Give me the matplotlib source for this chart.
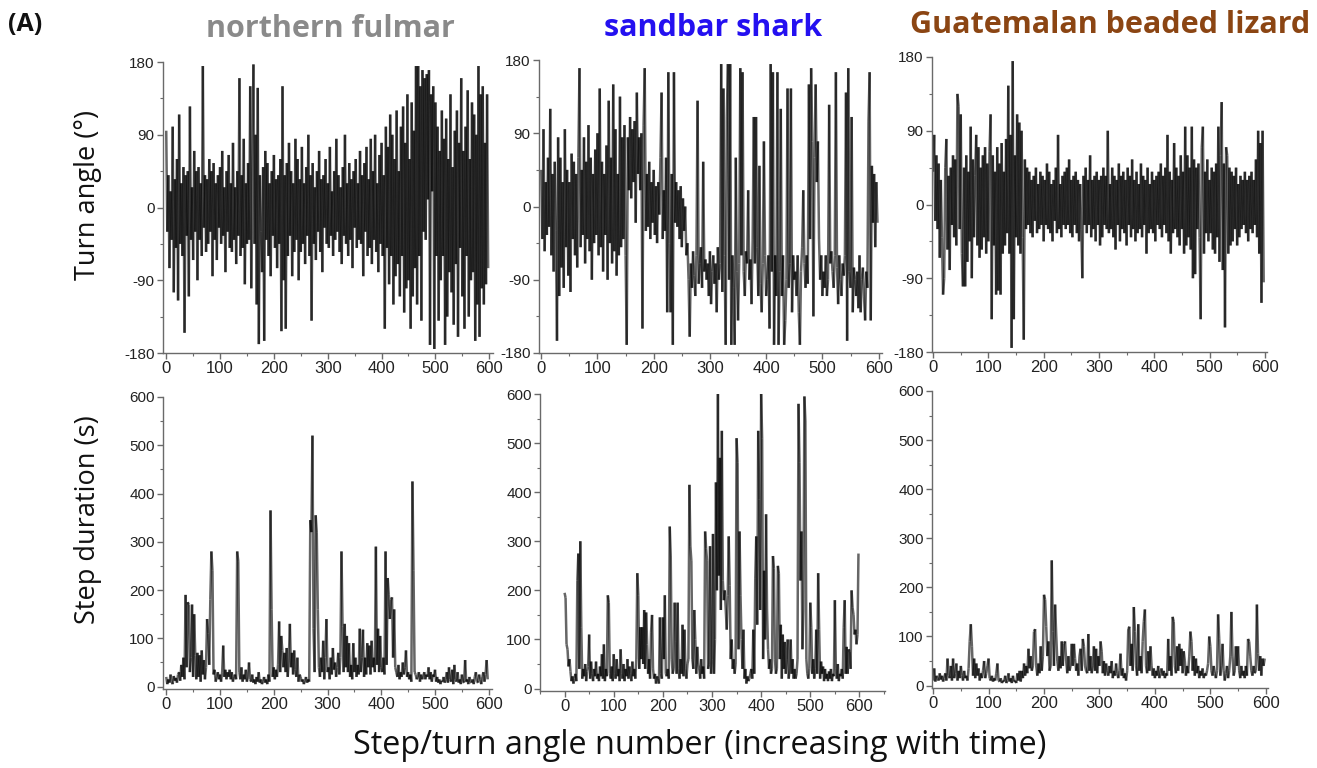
import numpy as np
import matplotlib
matplotlib.use("Agg")
import matplotlib.pyplot as plt
from matplotlib.ticker import MultipleLocator
from matplotlib.collections import LineCollection

plt.rcParams["font.family"] = ["Liberation Sans", "DejaVu Sans"]
plt.rcParams["axes.unicode_minus"] = False

# ---------------- data (one value every 2 steps) ----------------
species = ["northern fulmar", "sandbar shark", "Guatemalan beaded lizard"]
title_colors = ["#8a8a8a", "#2410f0", "#8b4513"]

fulmar_turn = [
    95, -30, 40, -75, 20, -40, 100, -105, 35, -50,
    60, -115, 115, -45, 30, -60, 50, -155, 40, -35,
    45, -110, 125, -40, 25, -65, 70, -30, 45, -90,
    50, -40, 30, -60, 175, -25, 40, -55, 35, -45,
    60, -30, 45, -85, 55, -40, 30, -65, 40, -25,
    50, -45, 70, -35, 25, -80, 45, -30, 65, -50,
    30, -55, 80, -40, 25, -70, 45, -35, 160, -60,
    40, -50, 85, -95, 30, -45, 55, -40, 150, -100,
    60, 177, -45, 90, -120, 148, -169, 40, -30, -80,
    50, -165, 70, -40, 55, -60, 30, -85, 45, -35,
    65, -50, 35, -75, 40, -45, 60, -153, 150, -90,
    40, -150, 55, -60, 80, -35, 45, -85, 30, -55,
    85, -40, 60, -90, 35, -55, 75, -45, 30, -70,
    50, -35, 90, -60, 40, -140, 55, -45, 25, -65,
    45, -30, 70, -55, 35, -80, 40, -25, 60, -45,
    30, -50, 75, -35, 20, -60, 45, -40, 85, -30,
    40, -55, 25, -70, 50, -35, 90, -45, 30, -60,
    55, -40, 35, -75, 45, -25, 60, -50, 30, -40,
    70, -45, 40, -85, 55, -30, 75, -60, 35, -50,
    85, -70, 45, -40, 90, -55, 30, -80, 65, -45,
    80, -60, 40, -150, 100, -50, 75, -95, 115, -60,
    90, -120, 60, -85, 120, -70, 45, -110, 100, -60,
    125, -130, 80, -100, 140, -90, 60, -150, 130, -110,
    95, -75, 175, -120, 175, -60, 150, -140, 170, -30,
    160, -40, 165, 10, 170, -170, 140, 20, 150, -175,
    130, -60, 100, -140, 70, -90, 120, -60, 85, -170,
    110, -135, 60, -80, 140, -105, 50, -145, 95, -70,
    120, -160, 80, -50, 160, -110, 70, -150, 100, -60,
    145, -135, 60, -90, 130, -80, 115, -165, 90, -120,
    175, -160, 140, -100, 150, -120, 80, -95, 140, -75,
]

shark_turn = [
    45, -40, 95, -55, 30, -35, 60, -25, 120, -60,
    40, -80, 55, -30, -165, 85, -110, 60, -75, 30,
    -100, 95, -50, 45, -85, 30, -105, 65, -40, 55,
    -60, 40, -75, 60, 170, -50, 45, -35, 85, -70,
    55, -40, 100, -55, 60, -90, 40, -45, 70, -35,
    90, -60, 145, -50, 55, -80, 40, -35, 75, -90,
    130, -45, 60, -70, 150, -55, 95, -85, 40, -60,
    135, -50, 85, -40, 100, -60, -170, 85, 20, 110,
    10, 95, 30, 105, -20, 140, 40, 85, 20, 90,
    -150, 100, 170, -30, 40, -25, 55, -40, 30, -20,
    45, -35, 25, -45, 30, -10, 60, 140, -40, 20,
    -30, 60, -130, 165, -45, -130, 40, -170, 165, -20,
    30, -25, 20, -40, 25, -50, 10, -30, 0, -60,
    -45, -90, -160, -70, -100, -55, -85, -110, -60, 130,
    -95, -70, -50, -100, 55, -80, -65, -90, -70, -110,
    -55, -120, -80, -60, -95, -70, -130, -50, -90, -70,
    175, -105, 145, -60, -170, 110, 175, -90, 175, -170,
    -60, -100, -170, 60, -80, -140, -70, 170, -60, 165,
    -80, -110, -55, -70, 20, -90, -65, -120, -40, 110,
    -70, 110, -50, -110, 50, -95, -130, -70, 80, -60,
    -110, -90, -60, -150, 175, -80, 165, -170, -60, -110,
    165, -170, -80, 120, -110, -60, -170, -140, -90, 145,
    -100, -70, 145, -130, -60, -90, -80, -110, -60, -130,
    -170, -80, -50, 20, -70, -100, -60, -95, 150, -40,
    170, 80, -135, 60, 150, 30, 80, -40, -90, -60,
    -110, -80, -100, -60, -110, -90, 125, -70, -55, -80,
    -100, -60, 165, -75, -120, -60, -90, -110, -70, -85,
    -60, 140, -165, 170, -80, -100, 110, -130, -75, -90,
    -110, -80, -125, -60, -130, -90, -75, -110, -140, -80,
    -100, 105, 165, -140, 50, -20, 40, -50, 30, -20,
]

lizard_turn = [
    40, 85, -20, 60, -30, 50, -65, 30, -40, -110,
    -90, 45, 80, -55, 35, -80, 45, -25, 60, -40,
    55, -50, 135, 120, -30, 110, -60, -100, 45, -100,
    60, -70, 40, -45, 95, -90, 55, -40, 35, 85,
    -50, 70, -65, 45, -55, 60, -40, 70, -60, 50,
    -45, 65, 110, -140, 60, -50, 40, -110, 70, -105,
    50, -110, 75, -60, 40, -50, 80, -35, 145, -60,
    85, -175, 175, -140, 60, -40, 110, -50, 100, -60,
    90, -40, -165, 55, -30, 45, -25, 40, -35, 30,
    -40, 35, -20, 45, -35, 25, -30, 40, -25, 35,
    -45, 30, -25, 50, -30, 40, -35, 25, -45, 30,
    -20, 45, -35, 85, -30, 25, -40, 35, -25, 40,
    -30, 45, -25, 55, -35, 30, -40, 35, -25, 40,
    -35, 30, -45, 25, -30, -90, 35, -25, 45, -35,
    30, -25, 60, -40, 30, -30, 35, -45, 40, -25,
    30, -50, 35, -40, 45, -25, 35, -30, 90, -35,
    25, -30, 45, -40, 35, -55, 30, -25, 50, -45,
    35, -30, 40, -35, 30, -50, 45, -25, 35, -40,
    55, -30, 30, -45, 40, -35, 25, -30, 50, -40,
    35, -25, 30, -60, 45, -35, 25, -30, 40, -35,
    30, -45, 35, -25, 40, -30, 50, -40, 35, -25,
    45, -35, 85, -45, 40, -60, 30, -35, 75, -30,
    45, -40, 35, -50, 60, -30, 40, -60, 95, -50,
    60, -40, 45, -55, 95, -90, 55, -85, 45, -30,
    50, -40, -140, 70, 95, -60, 40, -35, 55, -45,
    30, -35, 45, -55, 40, -60, 50, -40, 95, -70,
    60, 125, -80, 50, -150, 70, 60, -60, 45, -50,
    40, -45, 35, -30, 45, -50, 25, -40, 35, -30,
    30, -25, 40, -35, 30, -45, 35, -30, 40, -35,
    30, -25, 55, -40, 90, -60, 75, -120, 90, -95,
]

fulmar_step = [
    20, 5, 15, 8, 25, 10, 5, 22, 12, 18,
    8, 25, 30, 12, 45, 20, 60, 15, 190, 40,
    175, 170, 30, 60, 170, 20, 150, 65, 15, 70,
    20, 65, 10, 75, 25, 55, 15, 40, 140, 110,
    45, 180, 280, 240, 25, 35, 10, 20, 30, 15,
    25, 10, 30, 85, 20, 35, 15, 30, 20, 35,
    15, 30, 10, 20, 25, 15, 280, 260, 30, 15,
    40, 10, 25, 15, 35, 10, 20, 50, 15, 10,
    25, 8, 15, 5, 20, 10, 30, 8, 15, 5,
    10, 20, 8, 15, 5, 25, 10, 365, 160, 20,
    40, 15, 35, 20, 45, 135, 30, 105, 75, 40,
    70, 30, 80, 20, 55, 130, 40, 70, 25, 75,
    35, 20, 60, 10, 25, 20, 10, 15, 5, 12,
    20, 8, 15, 10, 345, 320, 520, 120, 30, 355,
    320, 160, 40, 20, 60, 30, 95, 15, 60, 140,
    30, 40, 15, 60, 25, 80, 35, 50, 20, 40,
    70, 25, 60, 280, 125, 30, 130, 40, 105, 30,
    90, 20, 45, 15, 90, 30, 60, 20, 45, 25,
    120, 30, 60, 118, 20, 60, 25, 90, 40, 85,
    25, 95, 40, 60, 30, 290, 45, 120, 30, 105,
    40, 30, 60, 25, 280, 45, 225, 190, 140, 180,
    185, 60, 160, 40, 30, 20, 45, 15, 30, 20,
    50, 25, 40, 75, 20, 30, 15, 25, 10, 425,
    240, 30, 25, 15, 20, 30, 10, 25, 15, 20,
    30, 15, 25, 20, 40, 15, 30, 10, 25, 20,
    35, 10, 20, 8, 15, 5, 12, 10, 20, 8,
    15, 30, 8, 40, 15, 10, 35, 5, 45, 15,
    10, 30, 8, 15, 5, 25, 10, 8, 55, 10,
    15, 5, 20, 10, 8, 15, 5, 20, 30, 10,
    8, 25, 15, 5, 20, 30, 10, 25, 55, 15,
]

shark_step = [
    195, 185, 90, 80, 45, 60, 35, 15, 25, 10,
    20, 30, 15, 220, 275, 40, 300, 125, 20, 40,
    25, 50, 15, 35, 45, 110, 20, 55, 30, 15,
    40, 25, 55, 20, 30, 15, 45, 25, 70, 20,
    90, 15, 40, 25, 190, 175, 30, 20, 45, 15,
    70, 30, 20, 60, 25, 40, 15, 80, 30, 20,
    50, 15, 40, 25, 60, 20, 45, 30, 15, 55,
    25, 40, 20, 60, 235, 190, 40, 125, 60, 125,
    50, 160, 40, 155, 90, 30, 60, 20, 115, 150,
    40, 20, 30, 10, 25, 20, 10, 145, 30, 20,
    145, 60, 190, 30, 25, 40, 20, 330, 270, 60,
    30, 40, 175, 95, 30, 175, 40, 20, 60, 30,
    130, 25, 120, 40, 20, 50, 60, 415, 290, 260,
    60, 40, 160, 100, 30, 85, 50, 40, 20, 60,
    30, 45, 20, 320, 285, 260, 40, 50, 290, 30,
    60, 315, 30, 100, 420, 200, 600, 230, 470, 160,
    525, 220, 180, 200, 160, 120, 190, 310, 210, 60,
    100, 40, 60, 30, 50, 510, 460, 80, 320, 190,
    100, 40, 120, 20, 40, 10, 25, 15, 20, 30,
    40, 20, 120, 30, 225, 310, 130, 525, 385, 160,
    600, 510, 60, 240, 100, 355, 160, 80, 40, 60,
    30, 40, 270, 245, 60, 30, 40, 250, 235, 60,
    130, 20, 110, 40, 95, 30, 60, 100, 20, 40,
    100, 30, 60, 20, 40, 20, 30, 60, 580, 460,
    220, 320, 80, 160, 595, 545, 60, 30, 20, 40,
    175, 125, 30, 60, 20, 40, 120, 30, 235, 120,
    20, 55, 30, 45, 15, 40, 20, 30, 15, 35,
    20, 40, 15, 30, 25, 180, 40, 20, 50, 15,
    30, 25, 40, 20, 125, 180, 30, 85, 30, 80,
    75, 40, 200, 165, 150, 110, 120, 90, 110, 275,
]

lizard_step = [
    10, 35, 8, 20, 15, 10, 25, 12, 20, 8,
    15, 25, 10, 55, 20, 15, 40, 10, 55, 15,
    25, 45, 10, 30, 15, 40, 20, 10, 30, 15,
    20, 10, 35, 90, 125, 80, 20, 55, 15, 45,
    20, 35, 10, 25, 15, 30, 50, 15, 25, 40,
    55, 15, 10, 20, 8, 15, 10, 25, 45, 10,
    8, 15, 5, 10, 8, 20, 5, 10, 25, 8,
    15, 5, 20, 8, 10, 5, 25, 10, 30, 8,
    30, 15, 45, 20, 40, 25, 75, 35, 60, 30,
    40, 110, 115, 40, 20, 45, 25, 80, 30, 60,
    185, 175, 120, 60, 90, 30, 40, 255, 110, 40,
    165, 105, 50, 30, 60, 35, 90, 40, 85, 90,
    50, 25, 60, 30, 40, 85, 40, 85, 55, 30,
    45, 20, 60, 75, 30, 95, 80, 40, 30, 25,
    105, 30, 60, 25, 40, 80, 30, 75, 25, 60,
    40, 90, 70, 25, 50, 20, 45, 30, 20, 40,
    25, 50, 15, 30, 20, 45, 25, 15, 30, 65,
    20, 35, 15, 25, 10, 30, 115, 120, 40, 85,
    30, 160, 110, 40, 20, 125, 30, 60, 25, 90,
    130, 155, 40, 25, 70, 30, 80, 40, 20, 35,
    15, 30, 20, 40, 15, 25, 35, 20, 30, 15,
    25, 20, 95, 30, 60, 20, 140, 130, 40, 25,
    80, 30, 85, 40, 75, 25, 70, 50, 20, 40,
    25, 60, 110, 90, 30, 60, 20, 55, 25, 40,
    15, 30, 20, 35, 15, 25, 20, 30, 45, 100,
    80, 30, 20, 40, 25, 15, 30, 145, 95, 20,
    40, 85, 30, 10, 25, 40, 15, 30, 60, 150,
    60, 20, 30, 80, 40, 80, 30, 15, 40, 20,
    30, 15, 40, 20, 95, 90, 60, 30, 20, 40,
    25, 30, 165, 65, 30, 60, 20, 55, 40, 55,
]

step_number = np.arange(len(fulmar_turn)) * 2   # step/turn angle number
x_ticks = [0, 100, 200, 300, 400, 500, 600]
turn_ticks = [-180, -90, 0, 90, 180]
step_ticks = [0, 100, 200, 300, 400, 500, 600]

# ---------------- layout ----------------
W, H = 1317, 768
fig = plt.figure(figsize=(W / 100, H / 100), dpi=100)

def px_axes(left, top, right, bottom):
    return fig.add_axes([left / W, 1 - bottom / H, (right - left) / W, (bottom - top) / H])

top_boxes = [(163, 62, 493, 353), (539, 60, 882, 353), (932, 57, 1267, 352)]
bot_boxes = [(163, 397, 492, 689), (540, 394, 885, 691), (932, 391, 1268, 688)]
top_xlim = [(-6, 607), (-4, 606), (-2, 604)]
bot_xlim = [(-6, 606), (-50, 652), (-2, 604)]

turn_data = [fulmar_turn, shark_turn, lizard_turn]
step_data = [fulmar_step, shark_step, lizard_step]

label_font = ["Open Sans", "DejaVu Sans"]

def trace(ax, xs, ys):
    pts = np.column_stack([xs, ys]).astype(float)
    segs = np.stack([pts[:-1], pts[1:]], axis=1)
    lc = LineCollection(segs, colors="black", linewidths=1.8, alpha=0.6)
    ax.add_collection(lc)

def style(ax):
    for s in ["top", "right"]:
        ax.spines[s].set_visible(False)
    for s in ["left", "bottom"]:
        ax.spines[s].set_color("#6a6a6a")
        ax.spines[s].set_linewidth(1.0)
    ax.tick_params(which="major", direction="out", length=4, width=1, color="#6a6a6a",
                   labelcolor="#222222")
    ax.tick_params(which="minor", direction="out", length=2.5, width=0.8, color="#6a6a6a")
    ax.tick_params(axis="y", labelsize=11, pad=2)
    ax.tick_params(axis="x", labelsize=12, pad=2)

for i in range(3):
    ax = px_axes(*top_boxes[i])
    trace(ax, step_number, turn_data[i])
    ax.set_xlim(*top_xlim[i])
    ax.set_ylim(-180, 180)
    ax.set_xticks(x_ticks)
    ax.set_yticks(turn_ticks)
    ax.xaxis.set_minor_locator(MultipleLocator(50))
    ax.yaxis.set_minor_locator(MultipleLocator(45))
    style(ax)

    ax2 = px_axes(*bot_boxes[i])
    trace(ax2, step_number, step_data[i])
    ax2.set_xlim(*bot_xlim[i])
    ax2.set_ylim(-5, 600)
    ax2.set_xticks(x_ticks)
    ax2.set_yticks(step_ticks)
    ax2.xaxis.set_minor_locator(MultipleLocator(50))
    ax2.yaxis.set_minor_locator(MultipleLocator(50))
    style(ax2)

# titles
title_pos = [(330, 37), (713, 36), (1110, 33)]
for name, col, (x, y) in zip(species, title_colors, title_pos):
    fig.text(x / W, 1 - y / H, name, color=col, fontsize=22, fontweight="bold",
             family=label_font, ha="center", va="baseline")

fig.text(8 / W, 1 - 31 / H, "(A)", fontsize=18, fontweight="bold",
         family=label_font, ha="left", va="baseline", color="#111111")

fig.text(88 / W, 1 - 195 / H, "Turn angle (°)", rotation=90, fontsize=19.5,
         family=label_font, ha="center", va="center", color="#111111")
fig.text(88 / W, 1 - 520 / H, "Step duration (s)", rotation=90, fontsize=19.5,
         family=label_font, ha="center", va="center", color="#111111")
fig.text(700 / W, 1 - 745 / H, "Step/turn angle number (increasing with time)",
         fontsize=23.3, family=label_font, ha="center", va="center", color="#111111")

fig.savefig("out.png", dpi=100)
